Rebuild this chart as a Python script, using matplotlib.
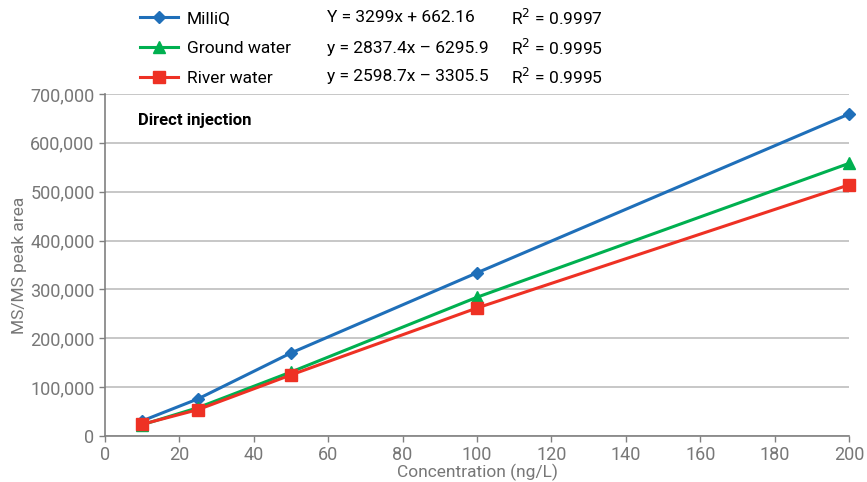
import matplotlib
matplotlib.use("Agg")
import matplotlib.pyplot as plt
from matplotlib.ticker import FuncFormatter

plt.rcParams['font.family'] = ['Roboto', 'DejaVu Sans']

conc = [10, 25, 50, 100, 200]
milliq = [31000, 76000, 170000, 334000, 659000]
ground = [23000, 58000, 131000, 284000, 558000]
river = [24000, 54000, 125000, 262000, 514000]

series_names = ["MilliQ", "Ground water", "River water"]
equations = ["Y = 3299x + 662.16", "y = 2837.4x \u2013 6295.9", "y = 2598.7x \u2013 3305.5"]
r2 = ["R$^2$ = 0.9997", "R$^2$ = 0.9995", "R$^2$ = 0.9995"]
colors = ["#1f6fb9", "#00b050", "#ee3124"]
markers = ["D", "^", "s"]
msizes = [6, 9, 8]

fig = plt.figure(figsize=(8.67, 4.82), dpi=100)
ax = fig.add_axes([105/867, 1-436/482, (849-105)/867, (436-94)/482])

handles = []
for ys, c, m, ms, n in zip([milliq, ground, river], colors, markers, msizes, series_names):
    h, = ax.plot(conc, ys, color=c, marker=m, markersize=ms, linewidth=2.2, label=n, clip_on=False, zorder=3)
    handles.append(h)

ax.set_xlim(0, 200)
ax.set_ylim(0, 700000)
ax.set_xticks(range(0, 201, 20))
ax.set_yticks(range(0, 700001, 100000))
ax.yaxis.set_major_formatter(FuncFormatter(lambda v, p: f"{int(v):,}"))
ax.grid(axis='y', color='#bdbdbd', linewidth=1.2)
ax.set_axisbelow(True)
for s in ['top', 'right']:
    ax.spines[s].set_visible(False)
for s in ['left', 'bottom']:
    ax.spines[s].set_color('#808080')
    ax.spines[s].set_linewidth(1.2)
ax.tick_params(colors='#808080', labelcolor='#777777', labelsize=13, length=4, width=1)
ax.set_xlabel("Concentration (ng/L)", color='#777777', fontsize=12.5)
ax.xaxis.set_label_coords(0.5, -(472-436)/342, transform=ax.transAxes)
ax.xaxis.label.set_va('center')
ax.set_ylabel("MS/MS peak area", color='#777777', fontsize=12.5)
ax.yaxis.set_label_coords(-(105-20)/744, 0.5)
ax.yaxis.label.set_va('center')
ax.text(138/867, 1-121/482, "Direct injection", transform=fig.transFigure, fontsize=12,
        fontweight='bold', va='center', ha='left', color='black')

leg_y = [18, 48, 77]
leg = fig.legend(handles=handles, labels=series_names, loc='upper left',
                 bbox_to_anchor=(140/867, 1-11/482), frameon=False, fontsize=12.5,
                 handlelength=2.2, handletextpad=0.5, labelspacing=0.85,
                 borderpad=0, borderaxespad=0)
for y, eq, r in zip(leg_y, equations, r2):
    fig.text(327/867, 1-y/482, eq, fontsize=12.5, va='center', ha='left')
    fig.text(511/867, 1-y/482, r, fontsize=12.5, va='center', ha='left')

fig.savefig("out.png", dpi=100)
